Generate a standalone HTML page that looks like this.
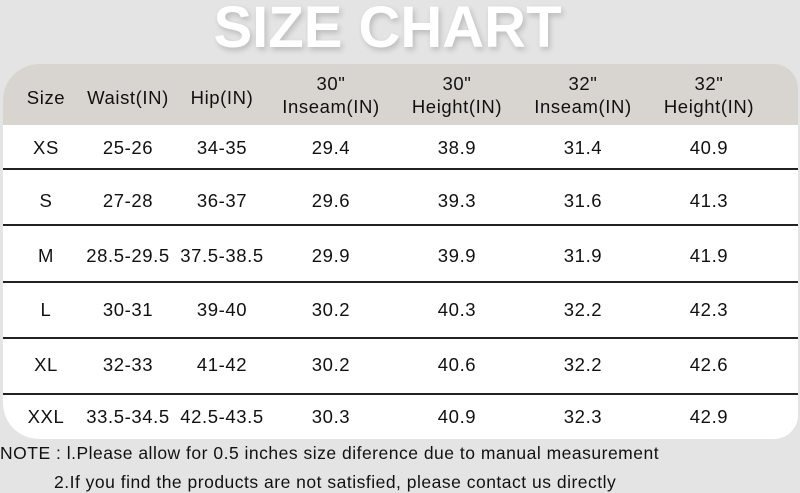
<!DOCTYPE html>
<html><head><style>
body{margin:0;width:800px;height:493px;background:#e4e4e4;position:relative;overflow:hidden;font-family:"Liberation Sans",sans-serif;color:#111}
.t{position:absolute;left:0;width:775px;text-align:center;top:-6px;font-size:58px;font-weight:bold;color:#fff;text-shadow:2px 3px 6px rgba(0,0,0,0.18);letter-spacing:0px}
.tb{position:absolute;left:3px;top:64px;width:795px;height:375px;background:#fff;border-radius:36px 24px 24px 36px;overflow:hidden}
.hd{position:absolute;left:0;top:0;width:100%;height:61px;background:#d8d5d0}
.c{position:absolute;transform:translateX(-50%);text-align:center;font-size:18.5px;letter-spacing:0.6px;white-space:nowrap;line-height:23px}
.ln{position:absolute;left:0;width:100%;height:2px;background:#222}
.n{position:absolute;left:0;font-size:17.5px;letter-spacing:0.5px;color:#111;white-space:nowrap}
</style></head><body>
<div class="t">SIZE CHART</div>
<div class="tb">
<div class="hd"></div>
<div class="ln" style="top:104px"></div>
<div class="ln" style="top:160px"></div>
<div class="ln" style="top:217px"></div>
<div class="ln" style="top:273px"></div>
<div class="ln" style="top:329px"></div>
</div>
<div id="g"></div>
<script>
var xs=[46,128,222,331,457,583,709];
var hd=[["Size"],["Waist(IN)"],["Hip(IN)"],['30"','Inseam(IN)'],['30"','Height(IN)'],['32"','Inseam(IN)'],['32"','Height(IN)']];
var rows=[["XS","25-26","34-35","29.4","38.9","31.4","40.9"],["S","27-28","36-37","29.6","39.3","31.6","41.3"],["M","28.5-29.5","37.5-38.5","29.9","39.9","31.9","41.9"],["L","30-31","39-40","30.2","40.3","32.2","42.3"],["XL","32-33","41-42","30.2","40.6","32.2","42.6"],["XXL","33.5-34.5","42.5-43.5","30.3","40.9","32.3","42.9"]];
var ys=[147,200,255,309,364,416];
var h="";
hd.forEach(function(a,i){
 if(a.length==1)h+='<div class="c" style="left:'+xs[i]+'px;top:86px">'+a[0]+'</div>';
 else h+='<div class="c" style="left:'+xs[i]+'px;top:72px">'+a[0]+'<br>'+a[1]+'</div>';
});
rows.forEach(function(r,j){r.forEach(function(v,i){h+='<div class="c" style="left:'+xs[i]+'px;top:'+(ys[j]-11)+'px">'+v+'</div>';});});
document.getElementById("g").innerHTML=h;
</script>
<div class="n" style="top:443px">NOTE : l.Please allow for 0.5 inches size diference due to manual measurement</div>
<div class="n" style="top:472px;left:54px">2.If you find the products are not satisfied, please contact us directly</div>
</body></html>
